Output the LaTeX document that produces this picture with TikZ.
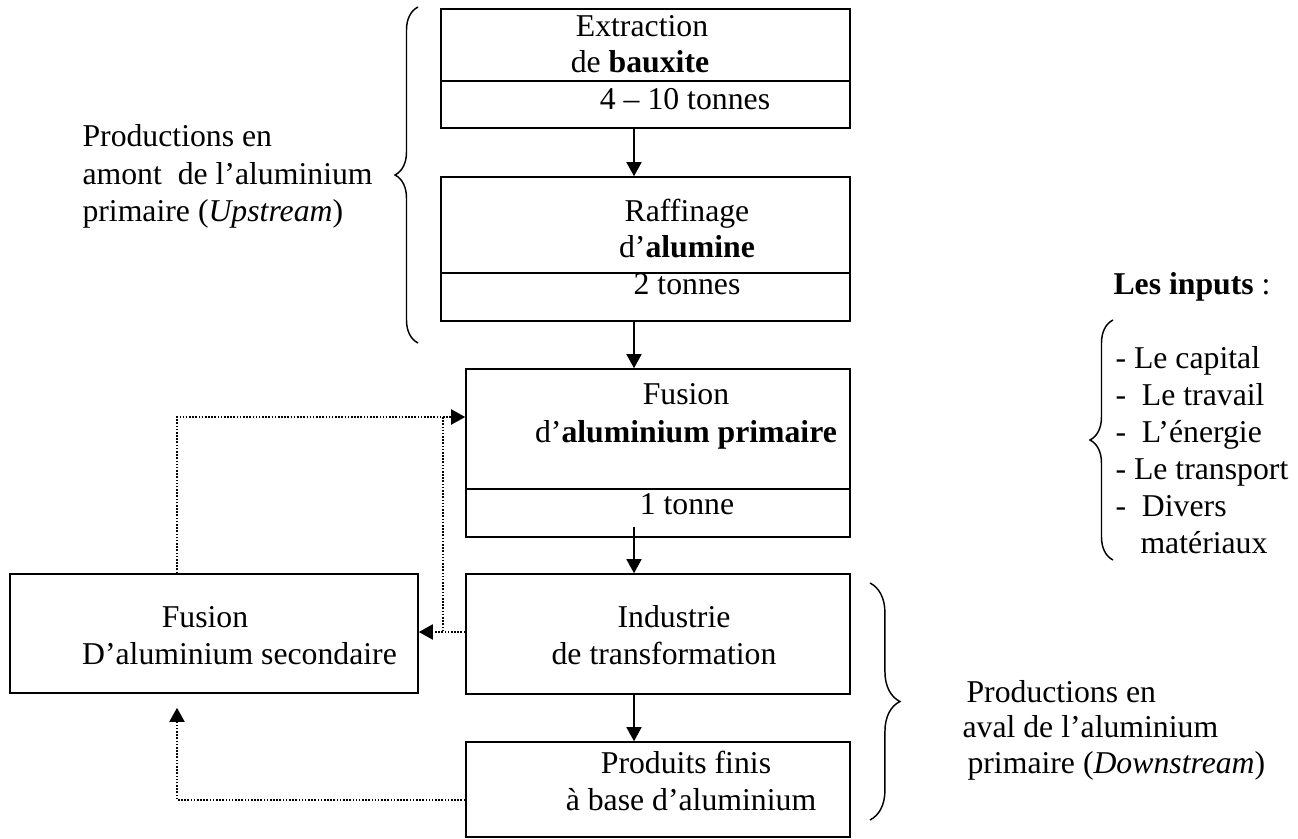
\documentclass[tikz,border=0pt]{standalone}
\usepackage{fontspec}
\setmainfont{Liberation Serif}
\usepackage{tikz}
\usetikzlibrary{arrows.meta, positioning, fit, decorations.pathreplacing}

\tikzset{
  box/.style={draw, line width=0.6pt, inner sep=0pt},
  txt/.style={anchor=base, inner sep=0pt},
  txtl/.style={anchor=base west, inner sep=0pt},
  flow/.style={-{Triangle[length=5.3pt,width=5.7pt]}, line width=0.5pt},
  recyc/.style={flow, line width=0.7pt, dash pattern=on 0.6pt off 0.6pt},
  brc/.style={decorate, decoration={brace, amplitude=#1}, line width=0.55pt}
}

\begin{document}
\begin{tikzpicture}[x=0.378pt, y=-0.378pt, font=\fontsize{12pt}{14pt}\selectfont]
  \useasboundingbox (0,0) rectangle (1298,839);

  % Boxes (pixel coordinates, y downwards)
  \node[box, fit={(441,9) (850,128)}] (bauxite) {};
  \node[box, fit={(441,177) (850,321)}] (alumine) {};
  \node[box, fit={(466,369) (850,537)}] (primaire) {};
  \node[box, fit={(466,574) (850,694)}] (transfo) {};
  \node[box, fit={(466,742) (850,837)}] (produits) {};
  \node[box, fit={(10,574) (418,693)}] (secondaire) {};

  % quantity compartments
  \draw[line width=0.6pt] (441,81) -- (850,81);
  \draw[line width=0.6pt] (441,273) -- (850,273);
  \draw[line width=0.6pt] (466,489) -- (850,489);

  % Box texts
  \node[txt] (bx1) at (642,37) {Extraction};
  \node[txt] (bx2) at (640,73) {de \textbf{bauxite}};
  \node[txt] (bx3) at (685,110) {4 – 10 tonnes};
  \node[txt] (al1) at (687,222) {Raffinage};
  \node[txt] (al2) at (687,258) {d’\textbf{alumine}};
  \node[txt] (al3) at (687,295) {2 tonnes};
  \node[txt] (pr1) at (686,405) {Fusion};
  \node[txt] (pr2) at (686,442) {d’\textbf{aluminium primaire}};
  \node[txt] (pr3) at (687,515) {1 tonne};
  \node[txt] (tr1) at (674,627) {Industrie};
  \node[txt] (tr2) at (664,664) {de transformation};
  \node[txt] (pf1) at (686,773) {Produits finis};
  \node[txt] (pf2) at (691,810) {à base d’aluminium};
  \node[txt] (sc1) at (205,627) {Fusion};
  \node[txt] (sc2) at (239.5,664) {D’aluminium secondaire};

  % Main chain
  \coordinate (axis) at (634,0);
  \draw[flow] (bauxite.south -| axis) -- (alumine.north -| axis);
  \draw[flow] (alumine.south -| axis) -- (primaire.north -| axis);
  \draw[flow, shorten <=-4.2pt] (primaire.south -| axis) -- (transfo.north -| axis);
  \draw[flow] (transfo.south -| axis) -- (produits.north -| axis);

  % Recycling (dotted)
  \coordinate (ret) at (177,417);
  \coordinate (knee) at (443,417);
  \coordinate (back) at (0,632);
  \coordinate (low) at (0,800);
  \draw[recyc] (secondaire.north -| ret) -- (ret) -- (primaire.west |- ret);
  \draw[recyc, -] (knee) -- (knee |- back);
  \draw[recyc] (transfo.west |- back) -- (secondaire.east |- back);
  \draw[recyc, shorten >=5.3pt] (produits.west |- low) -- (ret |- low) -- (ret |- secondaire.south);

  % Upstream brace
  \coordinate (up-b) at (418,343);
  \coordinate (up-t) at (418,7);
  \draw[brc=8.7pt] (up-b) -- (up-t);
  \node[txtl] (up1) at (82,147) {Productions en};
  \node[txtl] (up2) at (82,185) {amont~ de l’aluminium};
  \node[txtl] (up3) at (82,222) {primaire (\textit{Upstream})};

  % Downstream brace
  \coordinate (dn-t) at (870,583);
  \coordinate (dn-b) at (870,820);
  \draw[brc=11.3pt] (dn-t) -- (dn-b);
  \node[txtl] (dn1) at (966,702) {Productions en};
  \node[txtl] (dn2) at (962,737) {aval de l’aluminium};
  \node[txtl] (dn3) at (967,773) {primaire (\textit{Downstream})};

  % Inputs
  \node[txtl] (inp) at (1113,295) {\textbf{Les inputs} :};
  \coordinate (in-b) at (1113,560);
  \coordinate (in-t) at (1113,320);
  \draw[brc=8.7pt] (in-b) -- (in-t);
  \foreach \y/\lbl [count=\i] in {369/- Le capital, 406/-~ Le travail, 443/-~ L’énergie,
                                  480/- Le transport, 517/-~ Divers}
    \node[txtl] (in\i) at (1115,\y) {\lbl};
  \node[txtl] (in6) at (1140,553) {matériaux};
\end{tikzpicture}
\end{document}
